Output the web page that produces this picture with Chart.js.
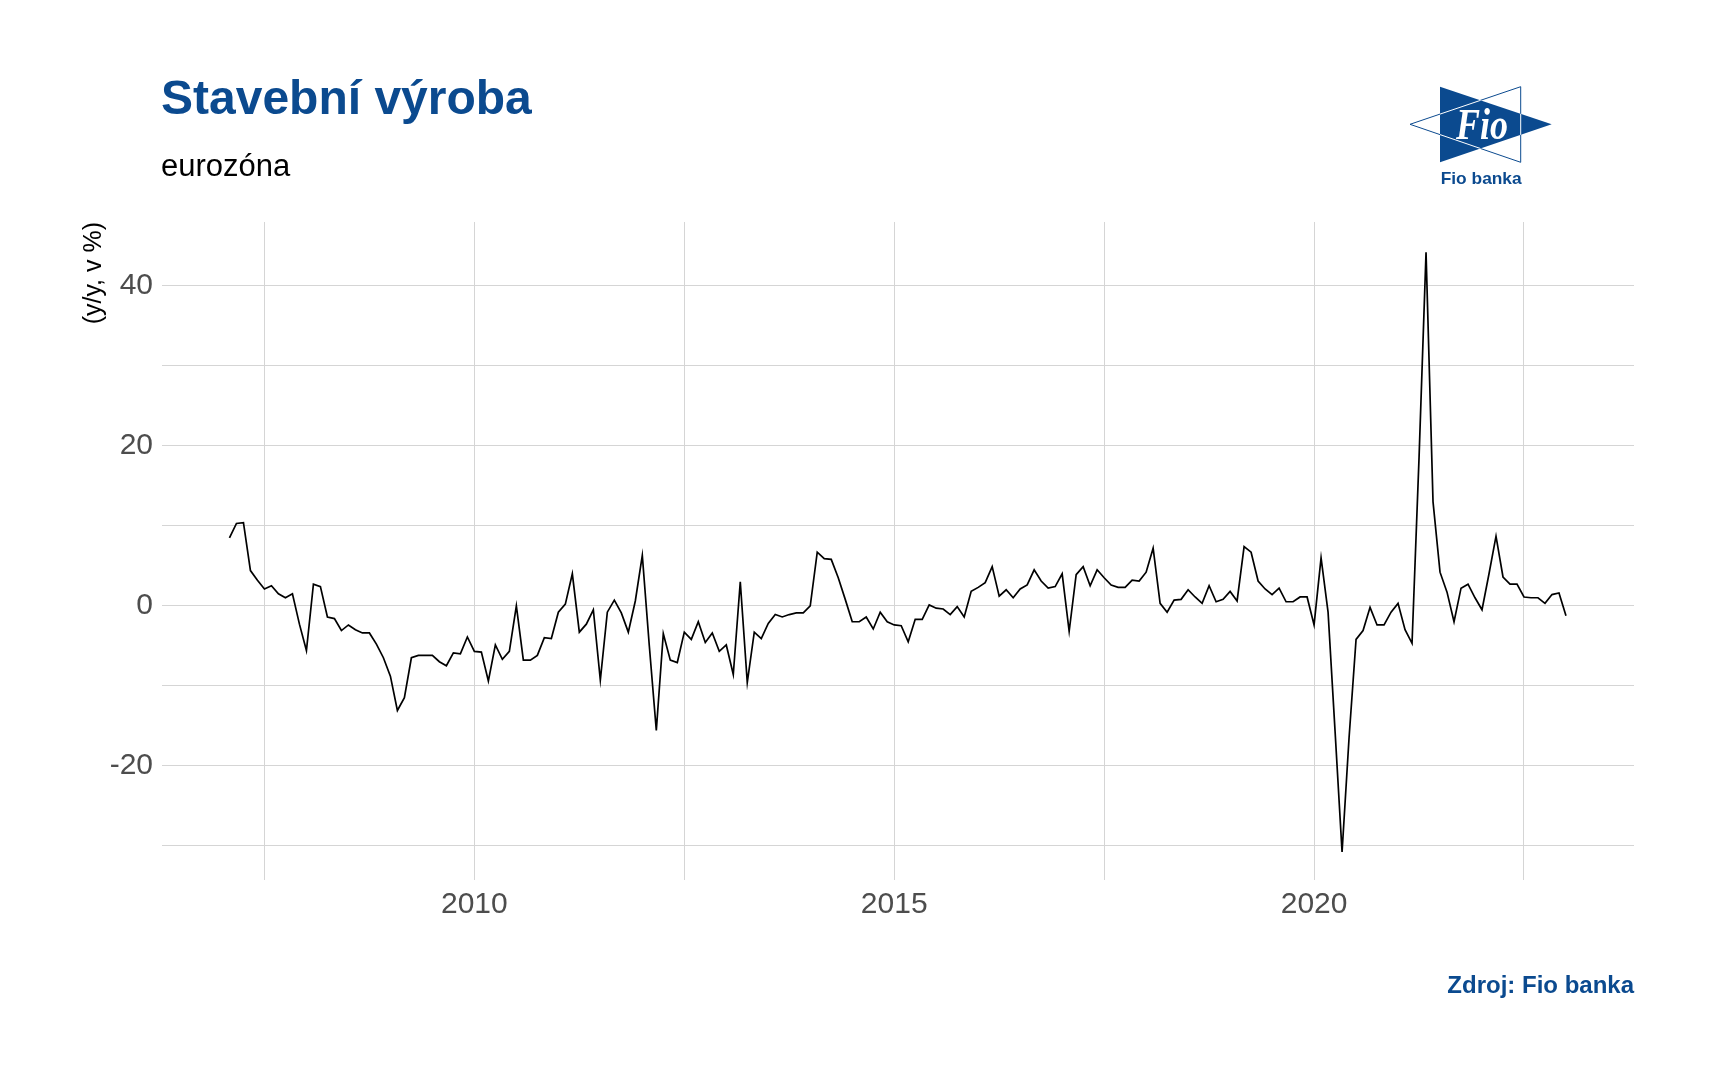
<!DOCTYPE html>
<html>
<head>
<meta charset="utf-8">
<script src="https://cdn.jsdelivr.net/npm/chart.js@4.4.1/dist/chart.umd.min.js"></script>
<style>
  body { margin: 0; background: #fff; width: 1714px; height: 1078px; overflow: hidden; position: relative; font-family: "Liberation Sans", Arial, sans-serif; }
  #chart { position: absolute; left: 0; top: 0; }
  .txt { position: absolute; line-height: 1; white-space: nowrap; }
  #title { left: 161px; top: 74px; font-size: 48px; font-weight: bold; color: #0b4a8f; }
  #subtitle { left: 161px; top: 150px; font-size: 31px; color: #000; }
  #source { right: 80px; top: 973px; font-size: 24px; font-weight: bold; color: #0b4a8f; }
  #logo { position: absolute; left: 1400px; top: 75px; }
</style>
</head>
<body>
<canvas id="chart" width="1714" height="1078"></canvas>
<div class="txt" id="title">Stavební výroba</div>
<div class="txt" id="subtitle">eurozóna</div>
<div class="txt" id="source">Zdroj: Fio banka</div>
<svg id="logo" width="170" height="120" viewBox="0 0 170 120">
  <defs>
    <clipPath id="blueTri"><polygon points="40,11.7 40,87.3 151.7,49.3"/></clipPath>
  </defs>
  <polygon points="40,11.7 40,87.3 151.7,49.3" fill="#0b4a8f"/>
  <polygon points="120.7,11.7 120.7,87.3 10,49.3" fill="none" stroke="#0b4a8f" stroke-width="1"/>
  <polygon points="120.7,11.7 120.7,87.3 10,49.3" fill="none" stroke="#fff" stroke-width="1" clip-path="url(#blueTri)"/>
  <text x="82" y="64" text-anchor="middle" font-family="Liberation Serif, DejaVu Serif, serif" font-weight="bold" font-style="italic" font-size="44" fill="#fff" textLength="52" lengthAdjust="spacingAndGlyphs">Fio</text>
  <text x="40.7" y="109.3" font-family="Liberation Sans, Arial, sans-serif" font-weight="bold" font-size="17" fill="#0b4a8f" textLength="81" lengthAdjust="spacingAndGlyphs">Fio banka</text>
</svg>
<script>
// stavebni vyroba, eurozona, y/y v %, mesicne od 1/2007
const firstYear = 2007;
const values = [
  8.5, 10.3, 10.4, 4.4, 3.2, 2.1, 2.5, 1.5, 1.0, 1.5, -2.3, -5.6,      // 2007
  2.7, 2.4, -1.4, -1.6, -3.1, -2.4, -3.0, -3.4, -3.4, -4.8, -6.5, -8.8, // 2008
  -13.1, -11.5, -6.5, -6.2, -6.2, -6.2, -7.0, -7.5, -5.9, -6.0, -3.9, -5.7, // 2009
  -5.8, -9.4, -4.9, -6.7, -5.7, 0.0, -6.8, -6.8, -6.2, -4.0, -4.1, -0.8, // 2010
  0.2, 4.0, -3.3, -2.3, -0.5, -9.3, -0.8, 0.7, -0.9, -3.3, 0.6, 6.3,    // 2011
  -5.0, -15.6, -3.5, -6.8, -7.1, -3.3, -4.2, -2.0, -4.6, -3.4, -5.7, -4.9, // 2012
  -8.6, 3.0, -9.6, -3.3, -4.1, -2.2, -1.1, -1.4, -1.1, -0.9, -0.9, 0.0, // 2013
  6.7, 5.9, 5.8, 3.5, 0.8, -2.0, -2.0, -1.4, -2.9, -0.8, -2.0, -2.4,    // 2014
  -2.5, -4.5, -1.7, -1.7, 0.1, -0.3, -0.4, -1.1, -0.1, -1.4, 1.8, 2.3,  // 2015
  2.9, 4.9, 1.2, 2.0, 1.0, 2.1, 2.6, 4.5, 3.1, 2.2, 2.4, 4.0,           // 2016
  -3.2, 3.9, 4.9, 2.5, 4.5, 3.5, 2.6, 2.3, 2.3, 3.2, 3.1, 4.2,          // 2017
  7.2, 0.3, -0.8, 0.7, 0.8, 2.0, 1.1, 0.3, 2.5, 0.5, 0.8, 1.8,          // 2018
  0.6, 7.4, 6.7, 3.1, 2.1, 1.4, 2.2, 0.5, 0.5, 1.1, 1.1, -2.4,          // 2019
  6.0, -0.8, -15.7, -30.8, -16.5, -4.2, -3.1, -0.2, -2.4, -2.4, -0.8, 0.3, // 2020
  -3.0, -4.7, 18.5, 44.2, 13.0, 4.2, 1.7, -2.0, 2.2, 2.7, 1.0, -0.5,    // 2021
  4.0, 8.7, 3.6, 2.7, 2.7, 1.1, 1.0, 1.0, 0.3, 1.4, 1.6, -1.25          // 2022
];
const xTicks = [2007.5, 2010, 2012.5, 2015, 2017.5, 2020, 2022.5];
const xLabels = [2010, 2015, 2020];
const yTicks = [-30, -20, -10, 0, 10, 20, 30, 40];
const yLabels = [-20, 0, 20, 40];

// konec mesice -> rok + mesic/12
let points = new Array();
for (let i = 0; i < values.length; i++) {
  points[i] = { x: firstYear + (i + 1) / 12, y: values[i] };
}

const gridColor = "#d5d5d5";
const tickColor = "#4d4d4d";

var ctx = document.getElementById("chart").getContext("2d");
var myChart = new Chart(ctx, {
  type: "line",
  data: {
    datasets: [{
      data: points,
      borderColor: "#000000",
      borderWidth: 1.7,
      pointRadius: 0,
      tension: 0,
      fill: false
    }]
  },
  options: {
    responsive: false,
    animation: false,
    devicePixelRatio: 1,
    layout: { padding: { left: 0, top: 222, right: 80, bottom: 138 } },
    plugins: {
      legend: { display: false },
      tooltip: { enabled: false }
    },
    scales: {
      x: {
        type: "linear",
        min: 2006.28,
        max: 2023.81,
        afterBuildTicks: function (axis) {
          axis.ticks = xTicks.map(v => ({ value: v }));
        },
        afterFit: function (axis) { axis.height = 60; },
        grid: { color: gridColor, lineWidth: 1, drawTicks: false },
        border: { display: false },
        ticks: {
          autoSkip: false,
          maxRotation: 0,
          padding: 7,
          color: tickColor,
          font: { family: "Liberation Sans, Arial, sans-serif", size: 30 },
          callback: function (value) {
            return xLabels.includes(value) ? String(value) : "";
          }
        }
      },
      y: {
        type: "linear",
        min: -34.3,
        max: 48.0,
        afterBuildTicks: function (axis) {
          axis.ticks = yTicks.map(v => ({ value: v }));
        },
        afterFit: function (axis) { axis.width = 162; },
        grid: { color: gridColor, lineWidth: 1, drawTicks: false },
        border: { display: false },
        title: {
          display: true,
          text: "(y/y, v %)",
          align: "end",
          color: "#000",
          padding: { top: 79, bottom: 0 },
          font: { family: "Liberation Sans, Arial, sans-serif", size: 25 }
        },
        ticks: {
          autoSkip: false,
          padding: 9,
          color: tickColor,
          font: { family: "Liberation Sans, Arial, sans-serif", size: 30 },
          callback: function (value) {
            return yLabels.includes(value) ? String(value) : "";
          }
        }
      }
    }
  }
});
</script>
</body>
</html>
